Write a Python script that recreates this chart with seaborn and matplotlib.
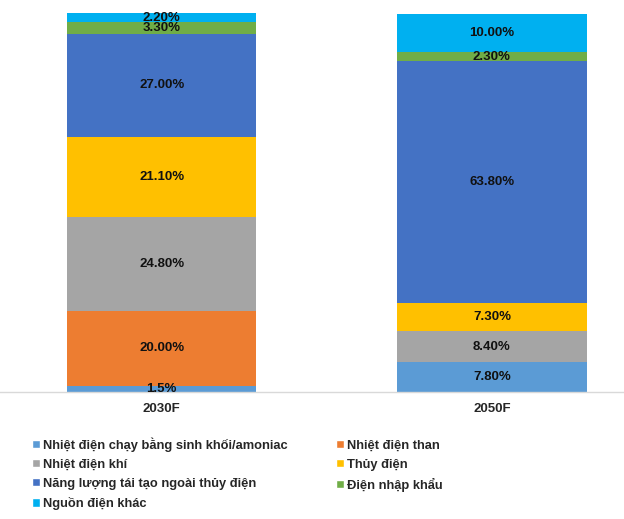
import matplotlib.pyplot as plt
import numpy as np
import pandas as pd
import seaborn as sns
from matplotlib.patches import Patch

years = ["2030F", "2050F"]
sources = [
    "Nhiệt điện chạy bằng sinh khối/amoniac",
    "Nhiệt điện than",
    "Nhiệt điện khí",
    "Thủy điện",
    "Năng lượng tái tạo ngoài thủy điện",
    "Điện nhập khẩu",
    "Nguồn điện khác",
]
share_2030 = [1.5, 20.0, 24.8, 21.1, 27.0, 3.3, 2.2]
share_2050 = [7.8, 0.0, 8.4, 7.3, 63.8, 2.3, 10.0]
labels_2030 = ["1.5%", "20.00%", "24.80%", "21.10%", "27.00%", "3.30%", "2.20%"]
labels_2050 = ["7.80%", "", "8.40%", "7.30%", "63.80%", "2.30%", "10.00%"]
colors = ["#5B9BD5", "#ED7D31", "#A5A5A5", "#FFC000", "#4472C4", "#70AD47", "#00B0F0"]


def main() -> None:
    sns.set_theme(style="white")
    plt.rcParams["font.family"] = ["Liberation Sans Narrow", "Liberation Sans", "DejaVu Sans"]
    plt.rcParams["font.weight"] = "bold"

    fig = plt.figure(figsize=(6.24, 5.19), dpi=100)
    ax = fig.add_axes([0.0, 0.2447, 1.0, 0.7303])

    values = np.array([share_2030, share_2050])
    bottoms = np.vstack([np.zeros(2), np.cumsum(values, axis=1)[:, :-1].T]).T
    for i, src in enumerate(sources):
        df = pd.DataFrame({"year": years, "share": values[:, i]})
        sns.barplot(
            data=df, x="year", y="share", color=colors[i], width=0.573,
            bottom=bottoms[:, i], ax=ax, linewidth=0, saturation=1,
        )
        ax.bar_label(
            ax.containers[-1], labels=[labels_2030[i], labels_2050[i]],
            label_type="center", fontsize=9.5, fontweight="bold", color="#111111",
        )

    ax.set_xlim(-0.49, 1.40)
    ax.set_ylim(0, 100)
    ax.set_xlabel("")
    ax.set_ylabel("")
    ax.set_yticks([])
    ax.tick_params(axis="x", length=0, pad=8, labelsize=9.5)
    for lab in ax.get_xticklabels():
        lab.set_fontweight("bold")
    for side in ["top", "right", "left"]:
        ax.spines[side].set_visible(False)
    ax.spines["bottom"].set_color("#D9D9D9")
    ax.spines["bottom"].set_linewidth(1)

    # matplotlib fills legend columns first, so reorder to read row by row
    order = [0, 2, 4, 6, 1, 3, 5]
    handles = [Patch(facecolor=colors[k], label=sources[k]) for k in order]
    fig.legend(
        handles=handles, ncol=2, loc="upper left", bbox_to_anchor=(0.033, 0.18),
        frameon=False, handlelength=0.6, handleheight=0.6,
        handletextpad=0.25, columnspacing=3.75, labelspacing=0.55,
        prop={"weight": "bold", "size": 9.3},
    )

    fig.savefig("out.png", dpi=100)


if __name__ == "__main__":
    main()
